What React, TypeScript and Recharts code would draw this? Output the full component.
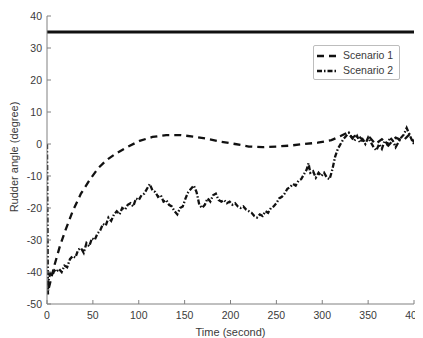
import React from 'react';
import { LineChart, Line, XAxis, YAxis, ReferenceLine, Legend, Label } from 'recharts';

// Axis ticks
const X_TICKS = [0, 50, 100, 150, 200, 250, 300, 350, 400];
const Y_TICKS = [-50, -40, -30, -20, -10, 0, 10, 20, 30, 40];

// Rudder saturation limit (degree)
const RUDDER_LIMIT = 35;

// Scenario 1: time (s) and rudder angle (deg)
const S1_TIME = [
  2, 8, 14, 20, 28, 37, 47, 56, 65, 75, 87, 101, 115, 130, 145, 160, 175, 190, 205, 220,
  235, 250, 265, 280, 295, 310, 320, 327, 333, 338, 345, 352, 358, 365, 372, 380, 388, 395, 400,
];
const S1_ANGLE = [
  -45, -38, -32, -27, -21, -15.5, -11, -7.5, -5, -3, -1, 1, 2.2, 2.8, 2.8, 2.3, 1.6, 0.7, 0, -0.8,
  -1, -0.8, -0.5, 0, 0.4, 1.2, 2.5, 3.5, 2, 3, 1, 2, 0, 1.5, -0.5, 2, 1, 3, 0.5,
];

// Scenario 2: time (s) and rudder angle (deg)
const S2_TIME = [
  0, 1, 2, 4, 6, 8, 10, 13, 16, 19, 22, 25, 28, 31, 34, 37, 40, 43, 46, 49,
  52, 55, 58, 61, 64, 67, 70, 73, 76, 79, 82, 85, 88, 91, 94, 97, 100, 103, 106, 109,
  112, 115, 118, 121, 124, 127, 130, 133, 136, 139, 142, 145, 148, 151, 154, 157, 160, 163, 166, 169,
  172, 175, 178, 181, 184, 187, 190, 193, 196, 199, 202, 205, 208, 211, 214, 217, 220, 223, 226, 229,
  232, 235, 238, 241, 244, 247, 250, 253, 256, 259, 262, 265, 268, 271, 274, 277, 280, 283, 285, 287,
  290, 293, 296, 299, 302, 305, 308, 311, 314, 317, 320, 323, 326, 329, 332, 335, 338, 341, 344, 347,
  350, 353, 356, 359, 362, 365, 368, 371, 374, 377, 380, 383, 386, 389, 392, 395, 398, 400,
];
const S2_ANGLE = [
  0, -47, -42, -40, -41, -39.5, -40, -39, -40, -38, -38.5, -36, -35, -35.5, -33, -32.5, -34, -31, -32, -29.5,
  -30, -28, -27, -25, -25.5, -23, -24, -22, -21, -22, -20, -20.5, -19, -18.5, -19.5, -17, -17.5, -16, -15.5, -14,
  -12.5, -14.5, -15, -16.5, -16, -18, -17.5, -19, -19.5, -21, -22, -20, -19.5, -17, -15, -14, -13, -15, -19, -20,
  -19, -17, -18, -16, -15.5, -17.5, -18, -17.5, -18.5, -18, -19, -18.5, -19.5, -20, -19.5, -20.5, -21, -21.5, -22.5, -23,
  -22, -22.5, -21, -21.5, -20, -19.5, -18.5, -17, -16.5, -15.5, -14, -13.5, -12.5, -13, -11.5, -11, -9.5, -8, -6, -9,
  -8.5, -10.5, -9, -10, -9, -10.5, -11, -8, -4, -1.5, 0, 1.5, 2.5, 3.5, 2, 1, 2.5, 0.5, 1.5, 0,
  2, 0.5, -1, -2, 0, -1.5, 1, 0, 2, 1, -1, 0.5, 2, 3, 5, 3, 1, 0,
];

const SERIES = [
  { name: 'Scenario 1', dash: '7 5' },
  { name: 'Scenario 2', dash: '5 2 1.5 2' },
];

const toPoints = (time: number[], angle: number[]) =>
  time.map((t, i) => ({ time: t, angle: angle[i] }));

const scenario1 = toPoints(S1_TIME, S1_ANGLE);
const scenario2 = toPoints(S2_TIME, S2_ANGLE);

const FONT = '"Liberation Sans", Arial, Helvetica, sans-serif';
const TEXT = '#3a3a3a';
const AXIS = '#808080';
const INK = '#111';

const tickStyle = { fontSize: 10.5, fill: TEXT, fontFamily: FONT };
const blank = () => '';

function LegendBox() {
  return (
    <div
      style={{
        border: '1px solid #bdbdbd',
        borderRadius: 2,
        background: '#fff',
        padding: '2px 3px 1px 3px',
        fontFamily: FONT,
        fontSize: 10.5,
        color: TEXT,
        lineHeight: '15px',
      }}
    >
      {SERIES.map((s) => (
        <div key={s.name} style={{ display: 'flex', alignItems: 'center', whiteSpace: 'nowrap' }}>
          <svg width={19} height={8} style={{ marginRight: 7 }}>
            <line x1={0} y1={4} x2={19} y2={4} stroke={INK} strokeWidth={2.3} strokeDasharray={s.dash} />
          </svg>
          <span>{s.name}</span>
        </div>
      ))}
    </div>
  );
}

export default function App() {
  return (
    <LineChart
      width={415}
      height={330}
      margin={{ top: 8, right: 9, bottom: 0, left: 0 }}
      style={{ fontFamily: FONT }}
    >
      <XAxis
        dataKey="time"
        type="number"
        domain={[0, 400]}
        ticks={X_TICKS}
        allowDataOverflow
        height={34}
        stroke={AXIS}
        tickSize={-4}
        tickMargin={12}
        tick={tickStyle}
      >
        <Label
          content={(props: any) => {
            const vb = props.viewBox;
            return (
              <text
                x={vb.x + vb.width / 2}
                y={vb.y + 32}
                textAnchor="middle"
                fontSize={11}
                fill={TEXT}
                fontFamily={FONT}
              >
                Time (second)
              </text>
            );
          }}
        />
      </XAxis>
      <XAxis
        xAxisId="top"
        orientation="top"
        type="number"
        domain={[0, 400]}
        ticks={X_TICKS}
        height={0}
        stroke={AXIS}
        tickSize={-4}
        tickFormatter={blank}
      />
      <YAxis
        type="number"
        domain={[-50, 40]}
        ticks={Y_TICKS}
        allowDataOverflow
        width={39}
        stroke={AXIS}
        tickSize={-4}
        tickMargin={9}
        tick={tickStyle}
      >
        <Label
          content={(props: any) => {
            const vb = props.viewBox;
            const cx = 10;
            const cy = vb.y + vb.height / 2 - 3;
            return (
              <text
                x={cx}
                y={cy}
                transform={`rotate(-90 ${cx} ${cy})`}
                textAnchor="middle"
                fontSize={11}
                fill={TEXT}
                fontFamily={FONT}
              >
                Rudder angle (degree)
              </text>
            );
          }}
        />
      </YAxis>
      <YAxis
        yAxisId="right"
        orientation="right"
        type="number"
        domain={[-50, 40]}
        ticks={Y_TICKS}
        width={0}
        stroke={AXIS}
        tickSize={-4}
        tickFormatter={blank}
      />
      <ReferenceLine y={RUDDER_LIMIT} stroke={INK} strokeWidth={3} />
      <Line
        data={scenario1}
        dataKey="angle"
        name={SERIES[0].name}
        stroke={INK}
        strokeWidth={2.3}
        strokeDasharray={SERIES[0].dash}
        dot={false}
        isAnimationActive={false}
      />
      <Line
        data={scenario2}
        dataKey="angle"
        name={SERIES[1].name}
        stroke={INK}
        strokeWidth={2.3}
        strokeDasharray={SERIES[1].dash}
        dot={false}
        isAnimationActive={false}
      />
      <Legend
        layout="vertical"
        align="center"
        verticalAlign="middle"
        content={() => <LegendBox />}
        wrapperStyle={{ position: 'absolute', left: 305, top: 37, width: 87, height: 'auto' }}
      />
    </LineChart>
  );
}
